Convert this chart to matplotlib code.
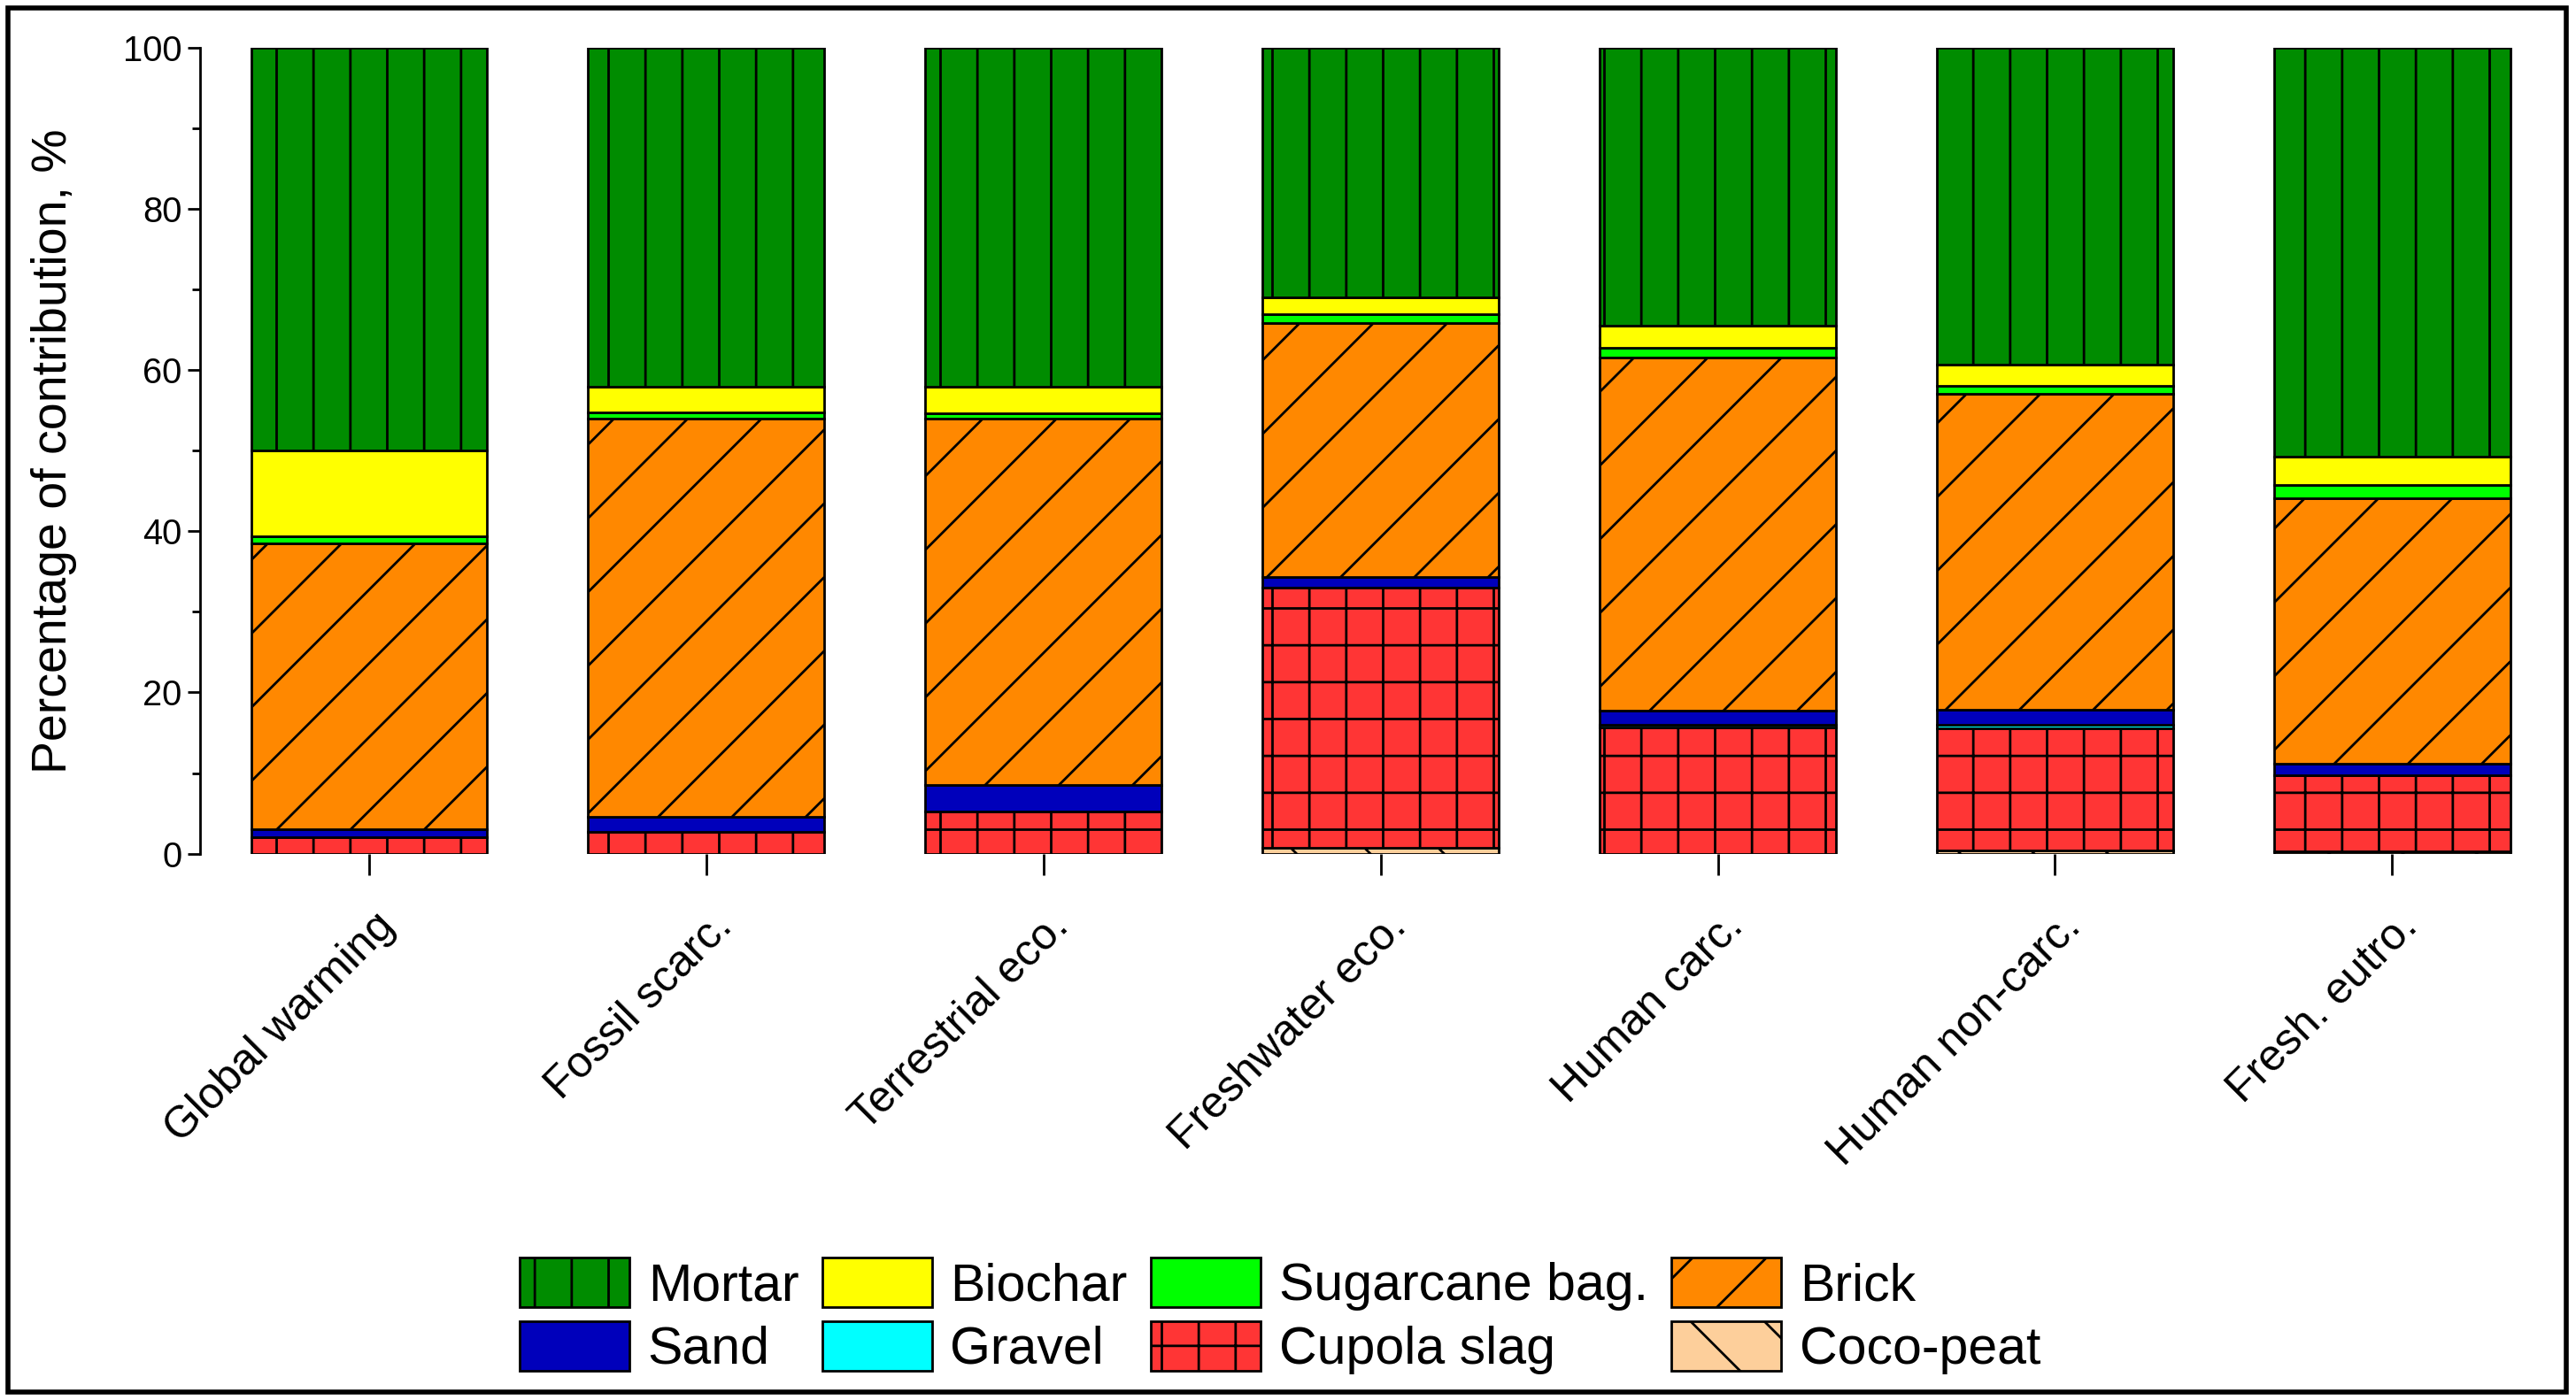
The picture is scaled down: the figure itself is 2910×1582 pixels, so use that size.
import numpy as np
import matplotlib
matplotlib.use("Agg")
from matplotlib import pyplot as plt
from matplotlib.patches import Rectangle
from matplotlib.transforms import ScaledTranslation

plt.rcParams['font.family'] = ['Liberation Sans', 'DejaVu Sans']
plt.rcParams['hatch.linewidth'] = 0.8

impacts = ["Global warming", "Fossil scarc.", "Terrestrial eco.", "Freshwater eco.",
           "Human carc.", "Human non-carc.", "Fresh. eutro."]

# contribution (%) of each material, bottom of the stack first
coco_peat = [0, 0, 0, 0.7, 0, 0.4, 0.3]
cupola_slag = [2.0, 2.7, 5.2, 32.3, 15.7, 15.2, 9.4]
gravel = [0, 0, 0, 0, 0.3, 0.4, 0]
sand = [1.0, 1.9, 3.3, 1.3, 1.7, 1.8, 1.4]
brick = [35.5, 49.4, 45.5, 31.5, 43.9, 39.3, 33.0]
sugarcane = [0.9, 0.8, 0.7, 1.2, 1.2, 1.0, 1.6]
biochar = [10.6, 3.1, 3.2, 2.0, 2.7, 2.6, 3.6]
mortar = [50.0, 42.1, 42.1, 31.0, 34.5, 39.3, 50.7]

layers = [
    ("Coco-peat", coco_peat, "#FDCF9B", "\\"),
    ("Cupola slag", cupola_slag, "#FF3535", "+"),
    ("Gravel", gravel, "#00FFFF", ""),
    ("Sand", sand, "#0000BB", ""),
    ("Brick", brick, "#FF8800", "/"),
    ("Sugarcane bag.", sugarcane, "#00FF00", ""),
    ("Biochar", biochar, "#FFFF00", ""),
    ("Mortar", mortar, "#008C00", "|"),
]

dpi = 250
fig = plt.figure(figsize=(2910 / dpi, 1582 / dpi), dpi=dpi)
ax = fig.add_axes([0.0778, 0.3903, 0.9163, 0.5755])

x = np.arange(len(impacts))
bottom = np.zeros(len(impacts))
bars = {}
for name, vals, color, hatch in layers:
    vals = np.array(vals)
    bars[name] = ax.bar(x, vals, 0.70, bottom=bottom, color=color, edgecolor="black",
                        linewidth=0.8, hatch=hatch, label=name)
    bottom += vals

ax.set_xlim(-0.5, 6.5)
ax.set_ylim(0, 100)
ax.set_yticks([0, 20, 40, 60, 80, 100])
ax.set_yticks([10, 30, 50, 70, 90], minor=True)
ax.set_ylabel("Percentage of contribution, %", fontsize=16, labelpad=15)

for s in ["top", "right", "bottom"]:
    ax.spines[s].set_visible(False)
ax.spines["left"].set_linewidth(0.8)

ax.tick_params(axis="y", which="major", direction="out", length=4, width=0.8, labelsize=11.5, pad=2)
ax.tick_params(axis="y", which="minor", direction="out", length=2.5, width=0.8)
ax.tick_params(axis="x", direction="out", length=7, width=0.8, pad=10)

ax.set_xticks(x)
ax.set_xticklabels(impacts, rotation=45, ha="right", fontsize=14.3)
shift = ScaledTranslation(38 / dpi, 0, fig.dpi_scale_trans)
for lab in ax.get_xticklabels():
    lab.set_transform(lab.get_transform() + shift)

# legend laid out row-wise like the original (matplotlib fills columns first)
order = ["Mortar", "Sand", "Biochar", "Gravel", "Sugarcane bag.", "Cupola slag", "Brick", "Coco-peat"]
fig.legend([bars[n] for n in order], order, loc="center", bbox_to_anchor=(0.497, 0.06),
           ncol=4, frameon=False, fontsize=17, handlelength=2.1, handleheight=1.08,
           handletextpad=0.35, columnspacing=0.45, labelspacing=0.19, borderpad=0)

fig.patches.append(Rectangle((0.0032, 0.0059), 0.993, 0.9882, transform=fig.transFigure,
                             fill=False, edgecolor="black", linewidth=1.6))

fig.savefig("out.png", dpi=dpi)
